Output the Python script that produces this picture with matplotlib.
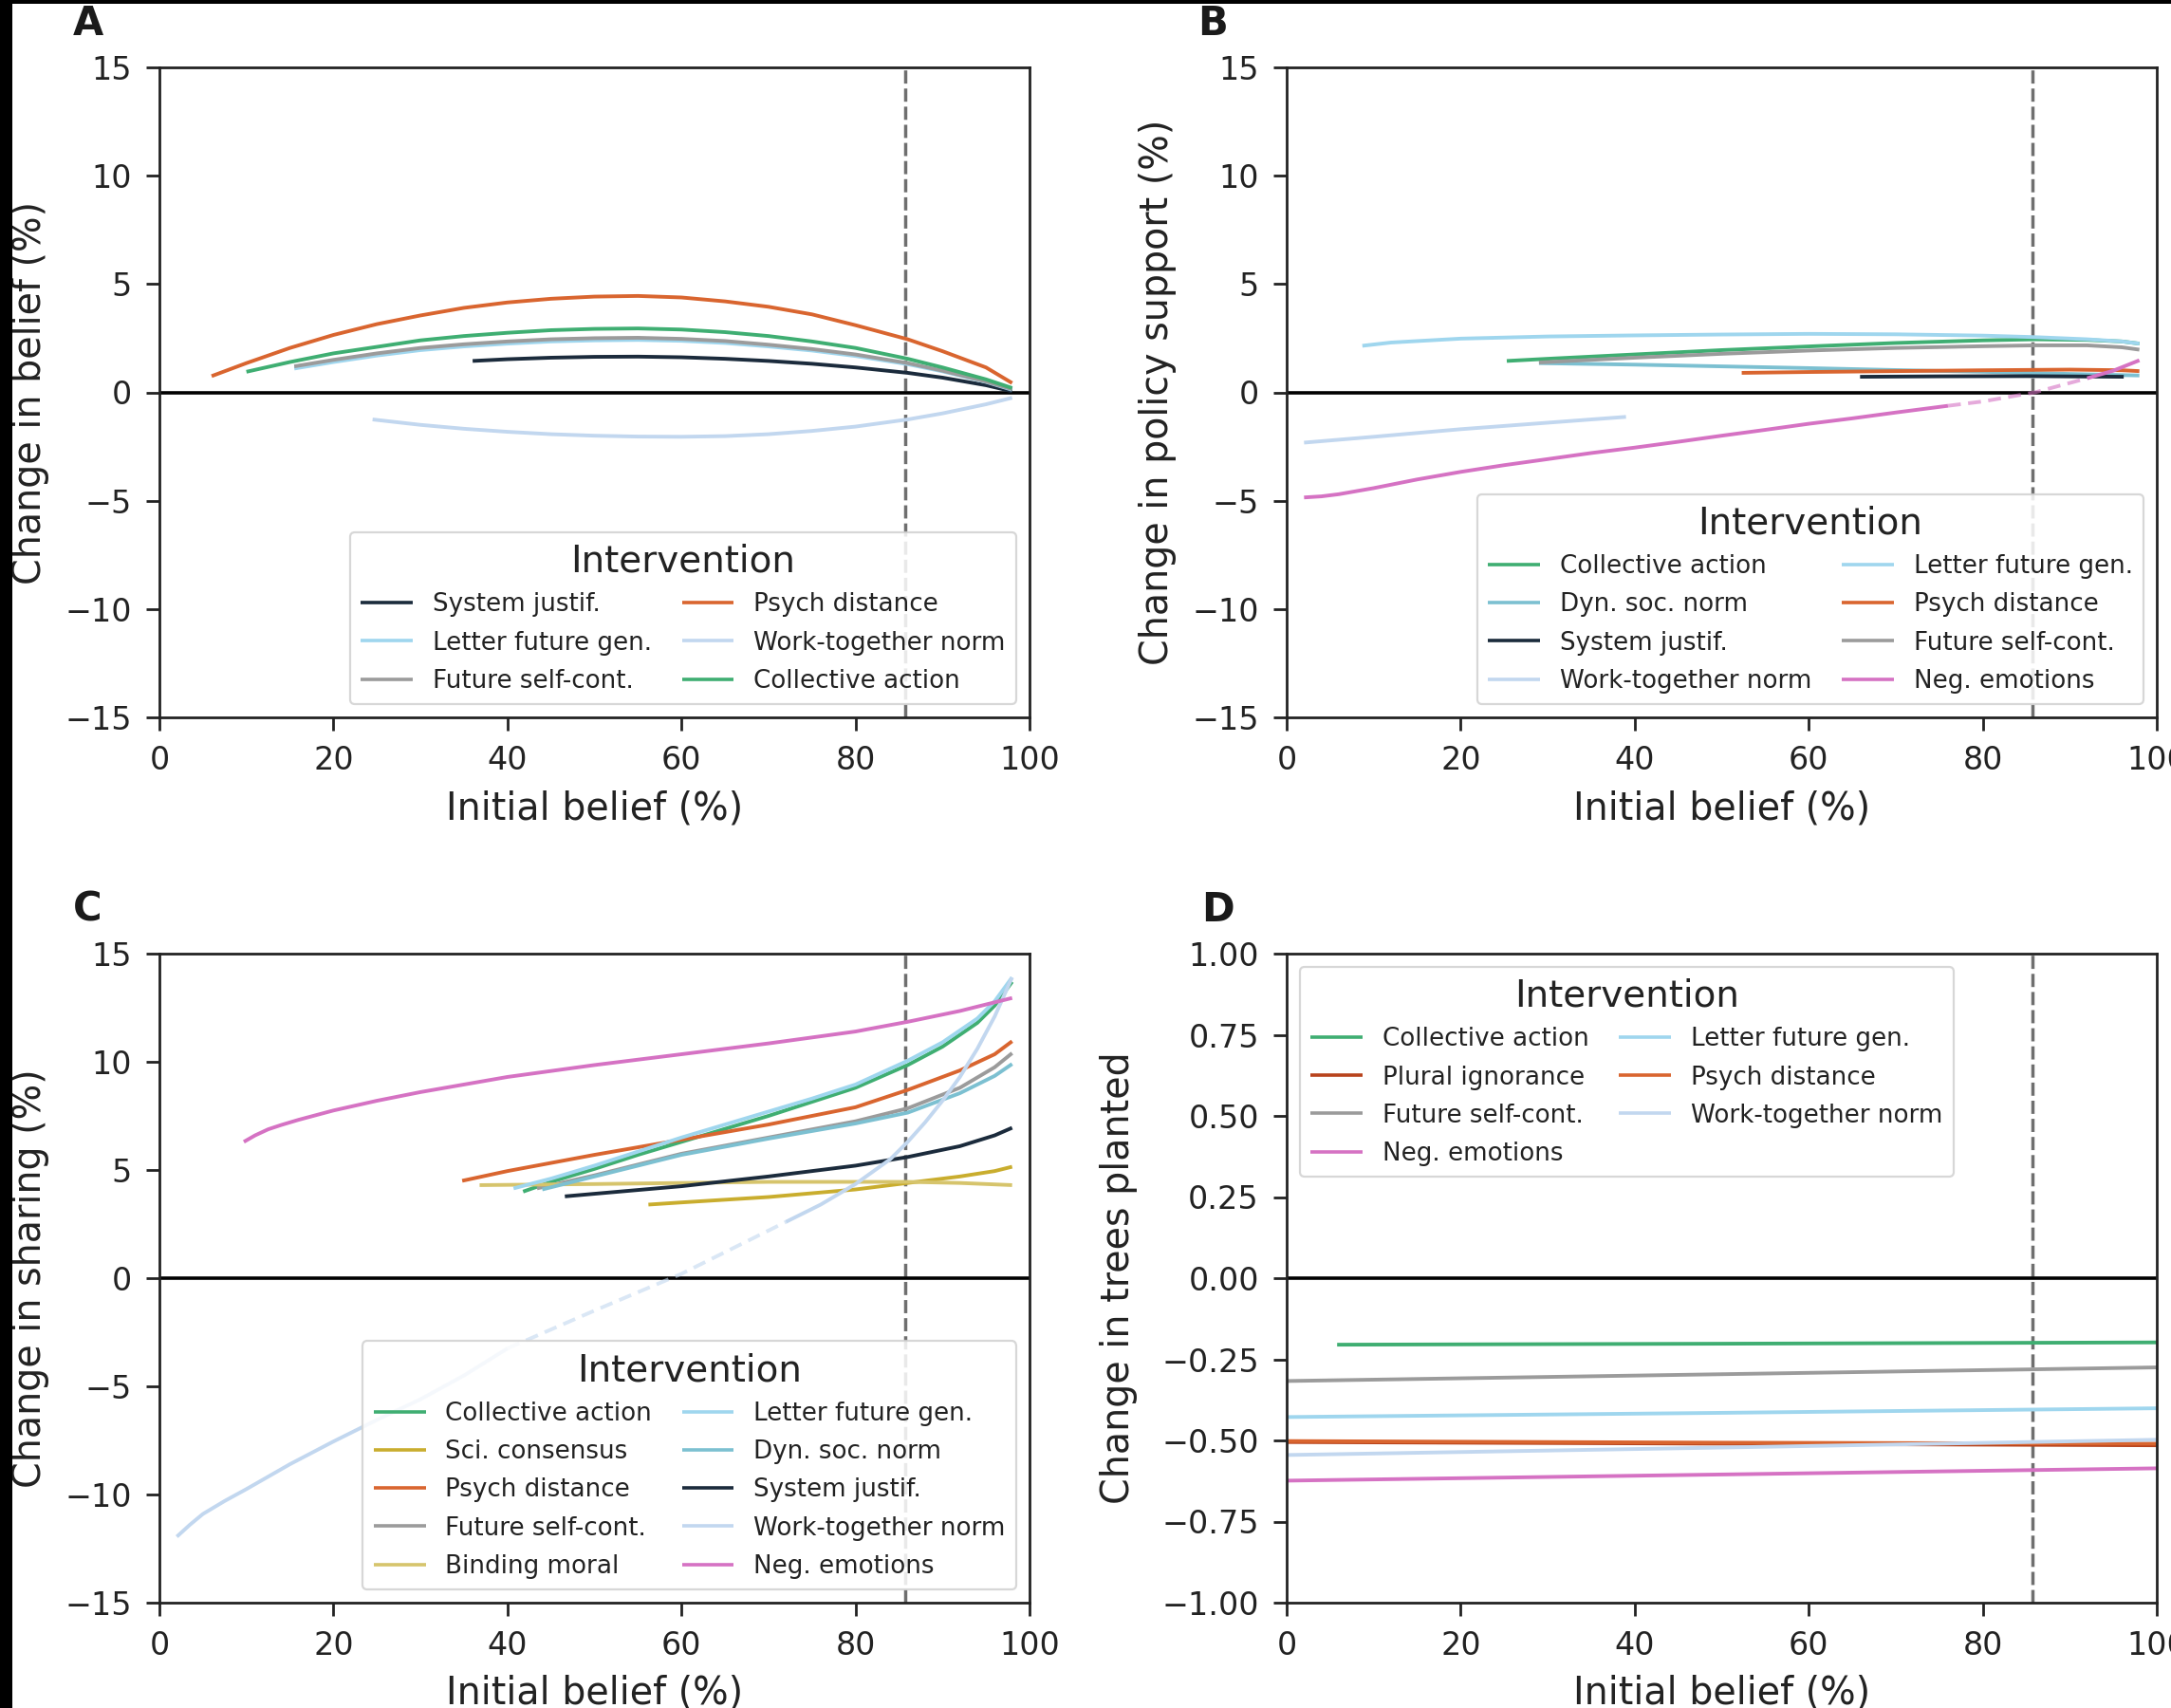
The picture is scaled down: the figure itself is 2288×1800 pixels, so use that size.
import matplotlib
matplotlib.use('Agg')
import matplotlib.pyplot as plt
from matplotlib.patches import Rectangle
from matplotlib.ticker import FuncFormatter

plt.rcParams['font.family'] = ['DejaVu Sans']

# ---------------- colours ----------------
C_COLL = '#3fae72'
C_SCI = '#c9ad2e'
C_PSYCH = '#d9652f'
C_FUT = '#9b9b9b'
C_BIND = '#d6c46c'
C_LET = '#9fd6ee'
C_DYN = '#7cc0d1'
C_SYS = '#1b2b3c'
C_WORK = '#c2d7ef'
C_NEG = '#d572c3'
C_PLUR = '#b8431c'

THRESHOLD = 85.7

# ---------------- Panel A : change in belief ----------------
A_sys_x = [36, 40, 45, 50, 55, 60, 65, 70, 75, 80, 86, 90, 95, 98]
A_sys_y = [1.45, 1.53, 1.6, 1.64, 1.65, 1.62, 1.55, 1.45, 1.32, 1.15, 0.9, 0.68, 0.33, 0.05]
A_let_x = [15.5, 20, 25, 30, 35, 40, 45, 50, 55, 60, 65, 70, 75, 80, 86, 90, 95, 98]
A_let_y = [1.1, 1.4, 1.7, 1.95, 2.12, 2.25, 2.35, 2.4, 2.42, 2.38, 2.28, 2.12, 1.93, 1.68, 1.3, 0.97, 0.48, 0.12]
A_fut_x = [15.5, 20, 25, 30, 35, 40, 45, 50, 55, 60, 65, 70, 75, 80, 86, 90, 95, 98]
A_fut_y = [1.2, 1.5, 1.8, 2.05, 2.22, 2.35, 2.45, 2.5, 2.52, 2.47, 2.37, 2.2, 2.0, 1.75, 1.35, 1.0, 0.5, 0.15]
A_psy_x = [6, 10, 15, 20, 25, 30, 35, 40, 45, 50, 55, 60, 65, 70, 75, 80, 86, 90, 95, 98]
A_psy_y = [0.75, 1.35, 2.05, 2.65, 3.15, 3.55, 3.9, 4.15, 4.32, 4.42, 4.45, 4.38, 4.2, 3.95, 3.6, 3.1, 2.45, 1.9, 1.15, 0.43]
A_wrk_x = [24.5, 30, 35, 40, 45, 50, 55, 60, 65, 70, 75, 80, 86, 90, 95, 98]
A_wrk_y = [-1.25, -1.5, -1.68, -1.82, -1.93, -2.0, -2.04, -2.05, -2.02, -1.93, -1.78, -1.58, -1.25, -0.97, -0.55, -0.25]
A_col_x = [10, 15, 20, 25, 30, 35, 40, 45, 50, 55, 60, 65, 70, 75, 80, 86, 90, 95, 98]
A_col_y = [0.95, 1.4, 1.8, 2.1, 2.4, 2.6, 2.75, 2.87, 2.93, 2.95, 2.9, 2.78, 2.6, 2.35, 2.05, 1.55, 1.15, 0.6, 0.2]

# ---------------- Panel B : change in policy support ----------------
B_col_x = [25.3, 30, 40, 50, 60, 70, 80, 86, 92, 96, 98]
B_col_y = [1.45, 1.55, 1.75, 1.95, 2.12, 2.28, 2.4, 2.45, 2.42, 2.35, 2.25]
B_dyn_x = [29, 40, 50, 60, 70, 80, 90, 98]
B_dyn_y = [1.35, 1.28, 1.2, 1.12, 1.03, 0.95, 0.85, 0.78]
B_sys_x = [65.9, 75, 85, 96.2]
B_sys_y = [0.72, 0.74, 0.75, 0.72]
B_wrk_x = [2, 10, 20, 30, 39]
B_wrk_y = [-2.32, -2.05, -1.7, -1.4, -1.13]
B_let_x = [8.7, 12, 20, 30, 40, 50, 60, 70, 80, 86, 92, 96, 98]
B_let_y = [2.15, 2.3, 2.48, 2.58, 2.63, 2.67, 2.7, 2.68, 2.62, 2.55, 2.45, 2.35, 2.25]
B_psy_x = [52.3, 60, 70, 80, 90, 96, 98]
B_psy_y = [0.9, 0.94, 0.98, 1.02, 1.05, 1.02, 0.98]
B_fut_x = [29, 40, 50, 60, 70, 80, 86, 92, 96, 98]
B_fut_y = [1.38, 1.6, 1.78, 1.93, 2.05, 2.13, 2.17, 2.17, 2.08, 1.97]
B_neg_x = [2, 4, 6, 8, 10, 15, 20, 25, 30, 35, 40, 45, 50, 55, 60, 65, 70, 76, 80, 86, 92, 95, 98]
B_neg_y = [-4.85, -4.8, -4.7, -4.56, -4.42, -4.02, -3.67, -3.36, -3.08, -2.8, -2.55, -2.28, -2.0,
           -1.73, -1.45, -1.2, -0.93, -0.62, -0.42, 0.0, 0.65, 1.0, 1.48]
B_neg_nonsig = (76, 92)

# ---------------- Panel C : change in sharing ----------------
C_col_x = [41.8, 45, 50, 55, 60, 65, 70, 75, 80, 86, 90, 94, 96, 98]
C_col_y = [4.0, 4.45, 5.05, 5.7, 6.3, 6.9, 7.5, 8.15, 8.8, 9.85, 10.7, 11.8, 12.6, 13.7]
C_sci_x = [56.2, 60, 70, 80, 86, 92, 96, 98]
C_sci_y = [3.4, 3.5, 3.75, 4.1, 4.4, 4.7, 4.95, 5.15]
C_psy_x = [34.8, 40, 50, 60, 70, 80, 86, 92, 96, 98]
C_psy_y = [4.5, 4.95, 5.7, 6.4, 7.1, 7.9, 8.7, 9.6, 10.35, 10.95]
C_fut_x = [43.4, 50, 60, 70, 80, 86, 92, 96, 98]
C_fut_y = [4.15, 4.75, 5.75, 6.5, 7.25, 7.85, 8.8, 9.75, 10.4]
C_bnd_x = [36.8, 50, 60, 70, 80, 86, 92, 98]
C_bnd_y = [4.3, 4.35, 4.4, 4.45, 4.45, 4.45, 4.4, 4.3]
C_let_x = [40.7, 45, 50, 55, 60, 65, 70, 75, 80, 86, 90, 94, 96, 98]
C_let_y = [4.15, 4.6, 5.2, 5.85, 6.5, 7.1, 7.7, 8.3, 8.95, 10.05, 10.9, 12.0, 12.8, 13.9]
C_dyn_x = [44, 50, 60, 70, 80, 86, 92, 96, 98]
C_dyn_y = [4.1, 4.7, 5.7, 6.45, 7.15, 7.65, 8.55, 9.35, 9.9]
C_sys_x = [46.6, 50, 60, 70, 80, 86, 92, 96, 98]
C_sys_y = [3.78, 3.9, 4.25, 4.7, 5.2, 5.6, 6.1, 6.6, 6.95]
C_wrk_x = [2, 3.5, 5, 7.5, 10, 15, 20, 25, 30, 35, 40, 50, 60, 66, 72, 76, 80, 84, 86, 88, 90,
           92, 94, 96, 98]
C_wrk_y = [-11.95, -11.4, -10.9, -10.3, -9.75, -8.6, -7.55, -6.55, -5.6, -4.5, -3.25, -1.5, 0.2,
           1.4, 2.6, 3.4, 4.35, 5.5, 6.3, 7.2, 8.2, 9.3, 10.6, 12.1, 13.9]
C_wrk_nonsig = (40, 72)
C_neg_x = [9.7, 11, 12.5, 14, 16, 20, 25, 30, 40, 50, 60, 70, 80, 86, 92, 98]
C_neg_y = [6.3, 6.6, 6.88, 7.08, 7.32, 7.75, 8.2, 8.6, 9.3, 9.85, 10.35, 10.85, 11.4, 11.85, 12.35, 12.95]

# ---------------- Panel D : change in trees planted ----------------
D_col_x = [5.8, 50, 100]
D_col_y = [-0.205, -0.202, -0.198]
D_plu_x = [0, 50, 100]
D_plu_y = [-0.505, -0.51, -0.515]
D_fut_x = [0, 50, 100]
D_fut_y = [-0.317, -0.296, -0.275]
D_neg_x = [0, 50, 100]
D_neg_y = [-0.624, -0.605, -0.586]
D_let_x = [0, 50, 100]
D_let_y = [-0.428, -0.415, -0.401]
D_psy_x = [0, 50, 100]
D_psy_y = [-0.502, -0.507, -0.51]
D_wrk_x = [0, 50, 100]
D_wrk_y = [-0.545, -0.522, -0.498]

# ---------------- figure ----------------
W, H = 2288, 1800
fig = plt.figure(figsize=(W / 100, H / 100), dpi=100)
fig.patch.set_facecolor('white')


def px_axes(l, t, r, b):
    return fig.add_axes([l / W, 1 - b / H, (r - l) / W, (b - t) / H])


LW = 2.8
TICK_FS = 24
LABEL_FS = 28.5
LEG_FS = 18.8
LEG_TITLE_FS = 28
TXT = '#222222'


def style(ax, ylabel, ylim, yticks, ylab_x, fmt=None):
    ax.set_xlim(0, 100)
    ax.set_ylim(*ylim)
    ax.set_xticks([0, 20, 40, 60, 80, 100])
    ax.set_yticks(yticks)
    if fmt is not None:
        ax.yaxis.set_major_formatter(FuncFormatter(fmt))
    for s in ax.spines.values():
        s.set_linewidth(2.0)
        s.set_color(TXT)
    ax.tick_params(direction='out', length=10, width=2, pad=11,
                   labelsize=TICK_FS, colors=TXT)
    ax.set_xlabel('Initial belief (%)', fontsize=LABEL_FS, color=TXT)
    ax.set_ylabel(ylabel, fontsize=LABEL_FS, color=TXT)
    ax.xaxis.set_label_coords(0.5, -0.111)
    ax.yaxis.set_label_coords(ylab_x, 0.5)
    ax.axhline(0, color='black', lw=2.6, zorder=1.5)
    ax.axvline(THRESHOLD, color='#6f6f6f', lw=2.5, dashes=(4.0, 1.5), zorder=1.4)


def curve(ax, x, y, color, label, nonsig=None):
    if nonsig is None:
        ax.plot(x, y, color=color, lw=LW, label=label, solid_capstyle='butt', zorder=2)
        return
    lo, hi = nonsig
    x1 = [a for a in x if a <= lo]
    y1 = [b for a, b in zip(x, y) if a <= lo]
    x2 = [a for a in x if lo <= a <= hi]
    y2 = [b for a, b in zip(x, y) if lo <= a <= hi]
    x3 = [a for a in x if a >= hi]
    y3 = [b for a, b in zip(x, y) if a >= hi]
    ax.plot(x1, y1, color=color, lw=LW, label=label, solid_capstyle='butt', zorder=2)
    ax.plot(x2, y2, color=color, lw=LW, alpha=0.6, dashes=(3.5, 2.0), zorder=2)
    ax.plot(x3, y3, color=color, lw=LW, solid_capstyle='butt', zorder=2)


def legend(ax, loc):
    leg = ax.legend(loc=loc, ncol=2, fontsize=LEG_FS, title='Intervention',
                    title_fontsize=LEG_TITLE_FS, columnspacing=1.2, labelspacing=0.54,
                    handlelength=2.1, handletextpad=0.8, framealpha=0.85,
                    edgecolor='#d0d0d0', fancybox=True, borderpad=0.45,
                    borderaxespad=0.52)
    leg.get_frame().set_linewidth(1.6)
    for t in leg.get_texts():
        t.set_color(TXT)
    leg.get_title().set_color(TXT)
    for h in leg.get_lines():
        h.set_linewidth(2.6)
    return leg


yt15 = [-15, -10, -5, 0, 5, 10, 15]

# Panel A
axA = px_axes(168, 71, 1085, 756)
style(axA, 'Change in belief (%)', (-15, 15), yt15, -0.127)
curve(axA, A_sys_x, A_sys_y, C_SYS, 'System justif.')
curve(axA, A_let_x, A_let_y, C_LET, 'Letter future gen.')
curve(axA, A_fut_x, A_fut_y, C_FUT, 'Future self-cont.')
curve(axA, A_psy_x, A_psy_y, C_PSYCH, 'Psych distance')
curve(axA, A_wrk_x, A_wrk_y, C_WORK, 'Work-together norm')
curve(axA, A_col_x, A_col_y, C_COLL, 'Collective action')
legend(axA, 'lower right')

# Panel B
axB = px_axes(1356, 71, 2273, 756)
style(axB, 'Change in policy support (%)', (-15, 15), yt15, -0.127)
curve(axB, B_col_x, B_col_y, C_COLL, 'Collective action')
curve(axB, B_dyn_x, B_dyn_y, C_DYN, 'Dyn. soc. norm')
curve(axB, B_sys_x, B_sys_y, C_SYS, 'System justif.')
curve(axB, B_wrk_x, B_wrk_y, C_WORK, 'Work-together norm')
curve(axB, B_let_x, B_let_y, C_LET, 'Letter future gen.')
curve(axB, B_psy_x, B_psy_y, C_PSYCH, 'Psych distance')
curve(axB, B_fut_x, B_fut_y, C_FUT, 'Future self-cont.')
curve(axB, B_neg_x, B_neg_y, C_NEG, 'Neg. emotions', nonsig=B_neg_nonsig)
legend(axB, 'lower right')

# Panel C
axC = px_axes(168, 1005, 1085, 1689)
style(axC, 'Change in sharing (%)', (-15, 15), yt15, -0.127)
curve(axC, C_col_x, C_col_y, C_COLL, 'Collective action')
curve(axC, C_sci_x, C_sci_y, C_SCI, 'Sci. consensus')
curve(axC, C_psy_x, C_psy_y, C_PSYCH, 'Psych distance')
curve(axC, C_fut_x, C_fut_y, C_FUT, 'Future self-cont.')
curve(axC, C_bnd_x, C_bnd_y, C_BIND, 'Binding moral')
curve(axC, C_let_x, C_let_y, C_LET, 'Letter future gen.')
curve(axC, C_dyn_x, C_dyn_y, C_DYN, 'Dyn. soc. norm')
curve(axC, C_sys_x, C_sys_y, C_SYS, 'System justif.')
curve(axC, C_wrk_x, C_wrk_y, C_WORK, 'Work-together norm', nonsig=C_wrk_nonsig)
curve(axC, C_neg_x, C_neg_y, C_NEG, 'Neg. emotions')
legend(axC, 'lower right')

# Panel D
axD = px_axes(1356, 1005, 2273, 1689)
style(axD, 'Change in trees planted', (-1, 1), [-1, -0.75, -0.5, -0.25, 0, 0.25, 0.5, 0.75, 1.0],
      -0.171, fmt=lambda v, p: f'{v:.2f}'.replace('-', '\u2212'))
curve(axD, D_col_x, D_col_y, C_COLL, 'Collective action')
curve(axD, D_plu_x, D_plu_y, C_PLUR, 'Plural ignorance')
curve(axD, D_fut_x, D_fut_y, C_FUT, 'Future self-cont.')
curve(axD, D_neg_x, D_neg_y, C_NEG, 'Neg. emotions')
curve(axD, D_let_x, D_let_y, C_LET, 'Letter future gen.')
curve(axD, D_psy_x, D_psy_y, C_PSYCH, 'Psych distance')
curve(axD, D_wrk_x, D_wrk_y, C_WORK, 'Work-together norm')
legend(axD, 'upper left')

# panel letters
for lab, (px, py) in {'A': (77, 37), 'B': (1262, 37), 'C': (77, 971), 'D': (1266, 971)}.items():
    fig.text(px / W, 1 - py / H, lab, fontsize=30, fontweight='bold', color='#1a1a1a',
             ha='left', va='baseline')

# dark scan borders (left and top)
fig.patches.append(Rectangle((0, 0), 13 / W, 1, transform=fig.transFigure,
                             facecolor='black', edgecolor='none', zorder=10))
fig.patches.append(Rectangle((0, 1 - 4 / H), 1, 4 / H, transform=fig.transFigure,
                             facecolor='black', edgecolor='none', zorder=10))

fig.savefig('out.png', dpi=100)
